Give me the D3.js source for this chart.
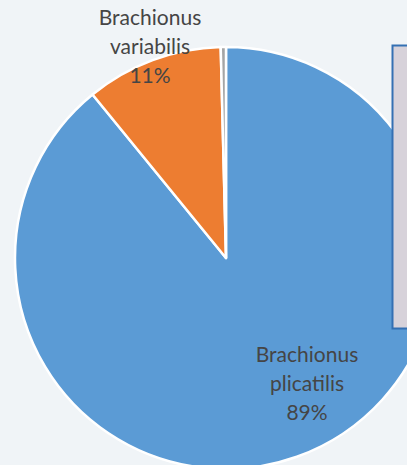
<!DOCTYPE html>
<html>
<head>
    <meta charset="utf-8">
    <title>brachionus pie</title>
    <script src="https://cdn.jsdelivr.net/npm/d3@7/dist/d3.min.js"></script>
</head>
<body style="margin:0;">
<style type="text/css">
    body {background: #f0f4f7;}
    .label text {font-family: Lato, "Open Sans", sans-serif; font-size: 21px; fill: #454545;}
</style>

<div id="container"></div>

<script type="text/javascript">
    // data
    const species = ['Brachionus plicatilis', 'Brachionus variabilis', 'other'];
    const shares = [89.1, 10.5, 0.4];
    const showLabel = [true, true, false];

    const w = 407;
    const h = 465;
    const cx = 226, cy = 258, r = 211;
    const colors = ['#5b9bd5', '#ed7d31', '#a5a5a5'];
    // label block centres relative to pie centre (excel "best fit")
    const labelOffset = [[81, 125], [-76, -212]];
    const lineH = 29;

    const svg = d3.select('div#container')
        .append('svg')
        .attr('width', w)
        .attr('height', h)
        .style('display', 'block');

    svg.append('rect')
        .attr('width', w)
        .attr('height', h)
        .style('fill', '#f0f4f7');

    const main = svg.append('g')
        .attr('transform', `translate(${cx}, ${cy})`);

    const pie = d3.pie().sort(null).value(d => d);
    const arcs = pie(shares);
    const arc = d3.arc().innerRadius(0).outerRadius(r);

    main.selectAll('path')
        .data(arcs)
        .join('path')
        .attr('d', arc)
        .style('fill', (d, i) => colors[i])
        .style('stroke', '#fff')
        .style('stroke-width', 2.5)
        .style('stroke-linejoin', 'round');

    const total = d3.sum(shares);
    const label = main.append('g').attr('class', 'label');
    arcs.forEach((d, i) => {
        if (!showLabel[i]) return;
        const words = species[i].split(' ');
        const lines = [words[0], words[1], Math.round(d.value / total * 100) + '%'];
        const [ox, oy] = labelOffset[i];
        const t = label.append('text')
            .attr('text-anchor', 'middle')
            .attr('x', ox)
            .attr('y', oy - lineH * 1.5 + 22);
        lines.forEach((s, k) => {
            t.append('tspan')
                .attr('x', ox)
                .attr('dy', k == 0 ? 0 : lineH)
                .text(s);
        });
    });

    // text box on the right
    svg.append('rect')
        .attr('x', 392.5)
        .attr('y', 45.5)
        .attr('width', 40)
        .attr('height', 283)
        .style('fill', '#d7d2da')
        .style('stroke', '#3470b3')
        .style('stroke-width', 2);
</script>
</body>
</html>
